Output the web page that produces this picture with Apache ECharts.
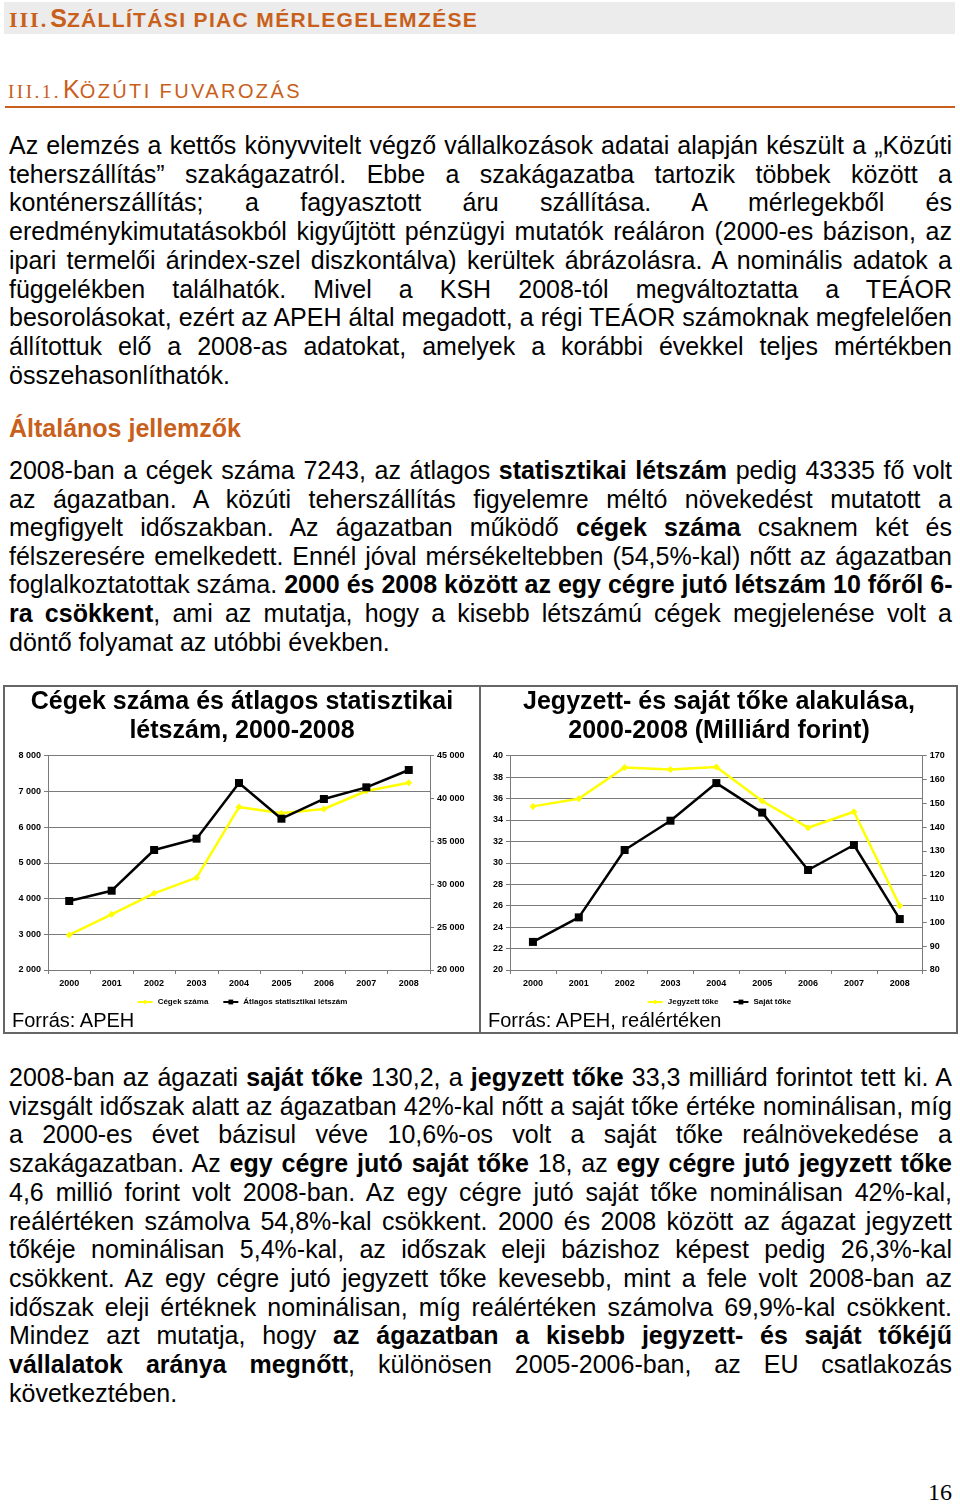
<!DOCTYPE html>
<html><head><meta charset="utf-8">
<script src="https://cdn.jsdelivr.net/npm/echarts@6/dist/echarts.min.js"></script>
<style>
html,body{margin:0;padding:0;background:#fff;}
body{width:960px;height:1504px;position:relative;overflow:hidden;font-family:"Liberation Sans",Arial,sans-serif;color:#000;}
.abs{position:absolute;}
.para{position:absolute;left:9px;width:943px;font-size:25px;}
.ln{text-align:justify;text-align-last:justify;white-space:nowrap;}
.ln.last{text-align-last:left;}
.orange{color:#c8601c;}
.box{position:absolute;border:2px solid #666;box-sizing:border-box;}
.src{position:absolute;font-size:20px;line-height:24px;}
</style>
</head><body>
<div class="abs" style="left:4px;top:2px;width:951px;height:32px;background:#ececec;"></div>
<div class="abs orange" style="left:9px;top:3px;height:30px;line-height:30px;white-space:nowrap;">
<span style="font-family:'Liberation Serif',serif;font-weight:bold;font-size:22px;letter-spacing:2px;">III.</span><span style="font-weight:bold;font-size:25px;margin-left:2px;">S</span><span style="font-weight:bold;font-size:21px;letter-spacing:1.35px;">ZÁLLÍTÁSI PIAC MÉRLEGELEMZÉSE</span>
</div>
<div class="abs orange" style="left:8px;top:74px;height:30px;line-height:30px;white-space:nowrap;">
<span style="font-family:'Liberation Serif',serif;font-size:19px;letter-spacing:2.5px;">III.1.</span><span style="font-size:25px;margin-left:2px;">K</span><span style="font-size:20px;letter-spacing:2.4px;">ÖZÚTI FUVAROZÁS</span>
</div>
<div class="abs" style="left:5px;top:106px;width:950px;height:2px;background:#c8601c;"></div>

<div class="para" style="top:131px;line-height:28.7px;">
<div class="ln">Az elemzés a kettős könyvvitelt végző vállalkozások adatai alapján készült a „Közúti</div>
<div class="ln">teherszállítás” szakágazatról. Ebbe a szakágazatba tartozik többek között a</div>
<div class="ln">konténerszállítás; a fagyasztott áru szállítása. A mérlegekből és</div>
<div class="ln">eredménykimutatásokból kigyűjtött pénzügyi mutatók reáláron (2000-es bázison, az</div>
<div class="ln">ipari termelői árindex-szel diszkontálva) kerültek ábrázolásra. A nominális adatok a</div>
<div class="ln">függelékben találhatók. Mivel a KSH 2008-tól megváltoztatta a TEÁOR</div>
<div class="ln">besorolásokat, ezért az APEH által megadott, a régi TEÁOR számoknak megfelelően</div>
<div class="ln">állítottuk elő a 2008-as adatokat, amelyek a korábbi évekkel teljes mértékben</div>
<div class="ln last">összehasonlíthatók.</div>
</div>

<div class="para orange" style="top:414px;line-height:28.6px;font-weight:bold;">Általános jellemzők</div>

<div class="para" style="top:456px;line-height:28.6px;">
<div class="ln">2008-ban a cégek száma 7243, az átlagos <b>statisztikai létszám</b> pedig 43335 fő volt</div>
<div class="ln">az ágazatban. A közúti teherszállítás figyelemre méltó növekedést mutatott a</div>
<div class="ln">megfigyelt időszakban. Az ágazatban működő <b>cégek száma</b> csaknem két és</div>
<div class="ln">félszeresére emelkedett. Ennél jóval mérsékeltebben (54,5%-kal) nőtt az ágazatban</div>
<div class="ln">foglalkoztatottak száma. <b>2000 és 2008 között az egy cégre jutó létszám 10 főről 6-</b></div>
<div class="ln"><b>ra csökkent</b>, ami az mutatja, hogy a kisebb létszámú cégek megjelenése volt a</div>
<div class="ln last">döntő folyamat az utóbbi években.</div>
</div>

<div class="box" style="left:3px;top:685px;width:478px;height:349px;"></div>
<div class="box" style="left:479px;top:685px;width:479px;height:349px;"></div>
<div id="c1" class="abs" style="left:4px;top:686px;width:476px;height:347px;"></div>
<div id="c2" class="abs" style="left:481px;top:686px;width:476px;height:347px;"></div>
<div class="src" style="left:12px;top:1008px;">Forrás: APEH</div>
<div class="src" style="left:488px;top:1008px;">Forrás: APEH, reálértéken</div>

<div class="para" style="top:1063px;line-height:28.7px;">
<div class="ln">2008-ban az ágazati <b>saját tőke</b> 130,2, a <b>jegyzett tőke</b> 33,3 milliárd forintot tett ki. A</div>
<div class="ln">vizsgált időszak alatt az ágazatban 42%-kal nőtt a saját tőke értéke nominálisan, míg</div>
<div class="ln">a 2000-es évet bázisul véve 10,6%-os volt a saját tőke reálnövekedése a</div>
<div class="ln">szakágazatban. Az <b>egy cégre jutó saját tőke</b> 18, az <b>egy cégre jutó jegyzett tőke</b></div>
<div class="ln">4,6 millió forint volt 2008-ban. Az egy cégre jutó saját tőke nominálisan 42%-kal,</div>
<div class="ln">reálértéken számolva 54,8%-kal csökkent. 2000 és 2008 között az ágazat jegyzett</div>
<div class="ln">tőkéje nominálisan 5,4%-kal, az időszak eleji bázishoz képest pedig 26,3%-kal</div>
<div class="ln">csökkent. Az egy cégre jutó jegyzett tőke kevesebb, mint a fele volt 2008-ban az</div>
<div class="ln">időszak eleji értéknek nominálisan, míg reálértéken számolva 69,9%-kal csökkent.</div>
<div class="ln">Mindez azt mutatja, hogy <b>az ágazatban a kisebb jegyzett- és saját tőkéjű</b></div>
<div class="ln"><b>vállalatok aránya megnőtt</b>, különösen 2005-2006-ban, az EU csatlakozás</div>
<div class="ln last">következtében.</div>
</div>

<div class="abs" style="right:8px;top:1478px;font-family:'Liberation Serif',serif;font-size:24px;line-height:28px;">16</div>

<script>
// ---- data ----
const years = ['2000','2001','2002','2003','2004','2005','2006','2007','2008'];
const cegekSzama = [2980, 3558, 4146, 4585, 6563, 6386, 6507, 7011, 7243];
const atlagosLetszam = [28050, 29250, 34000, 35320, 41810, 37650, 39950, 41310, 43335];
const jegyzettToke = [35.27, 35.99, 38.91, 38.72, 38.94, 35.77, 33.28, 34.77, 26.0];
const sajatToke = [91.8, 102.1, 130.4, 142.7, 158.5, 146.1, 122.0, 132.5, 101.4];
const title1 = 'Cégek száma és átlagos statisztikai\nlétszám, 2000-2008';
const title2 = 'Jegyzett- és saját tőke alakulása,\n2000-2008 (Milliárd forint)';
const legend1 = ['Cégek száma', 'Átlagos statisztikai létszám'];
const legend2 = ['Jegyzett tőke', 'Saját tőke'];

const FONT = '"Liberation Sans", Arial, sans-serif';
const fmtThousands = v => String(v).replace(/\B(?=(\d{3})+(?!\d))/g, ' ');
const YELLOW = '#ffff00';

function makeOption(title, names, catData, s1, s2, left, right, fmtL, fmtR, grid) {
  const axisLine = {show:true, lineStyle:{color:'#7a7a7a', width:1}};
  const lbl = {color:'#000', fontSize:9, fontWeight:'bold', fontFamily:FONT};
  return {
    animation:false,
    textStyle:{fontFamily:FONT},
    title:{text:title, left:'center', top:2, padding:0,
      textStyle:{fontSize:25, fontWeight:'bold', color:'#000', lineHeight:29, fontFamily:FONT}},
    legend:{data:names, top:307, left:'center', itemWidth:15, itemHeight:6, itemGap:14,
      textStyle:{fontSize:8, color:'#000', fontWeight:'bold', fontFamily:FONT}},
    grid:grid,
    xAxis:{type:'category', data:catData, boundaryGap:true,
      axisLine:axisLine, axisTick:{show:true, length:4, lineStyle:{color:'#7a7a7a'}},
      axisLabel:Object.assign({margin:9}, lbl)},
    yAxis:[
      Object.assign({type:'value', position:'left',
        axisLine:axisLine, axisTick:{show:true, length:4, lineStyle:{color:'#7a7a7a'}},
        splitLine:{show:true, lineStyle:{color:'#7a7a7a', width:1}},
        axisLabel:Object.assign({formatter:fmtL, margin:7}, lbl)}, left),
      Object.assign({type:'value', position:'right',
        axisLine:axisLine, axisTick:{show:true, length:4, lineStyle:{color:'#7a7a7a'}},
        splitLine:{show:false},
        axisLabel:Object.assign({formatter:fmtR, margin:7}, lbl)}, right)
    ],
    series:[
      {name:names[0], type:'line', yAxisIndex:0, data:s1, symbol:'diamond', symbolSize:7,
        lineStyle:{color:YELLOW, width:2.5}, itemStyle:{color:YELLOW}, color:YELLOW},
      {name:names[1], type:'line', yAxisIndex:1, data:s2, symbol:'rect', symbolSize:8,
        lineStyle:{color:'#000', width:2.5}, itemStyle:{color:'#000'}, color:'#000'}
    ]
  };
}

const c1 = echarts.init(document.getElementById('c1'));
c1.setOption(makeOption(title1, legend1, years, cegekSzama, atlagosLetszam,
  {min:2000, max:8000, interval:1000}, {min:20000, max:45000, interval:5000},
  fmtThousands, fmtThousands,
  {left:44, right:50, top:69.7, bottom:63}));

const c2 = echarts.init(document.getElementById('c2'));
c2.setOption(makeOption(title2, legend2, years, jegyzettToke, sajatToke,
  {min:20, max:40, interval:2}, {min:80, max:170, interval:10},
  v => String(v), v => String(v),
  {left:29, right:34.3, top:69.7, bottom:63}));
</script>
</body></html>
